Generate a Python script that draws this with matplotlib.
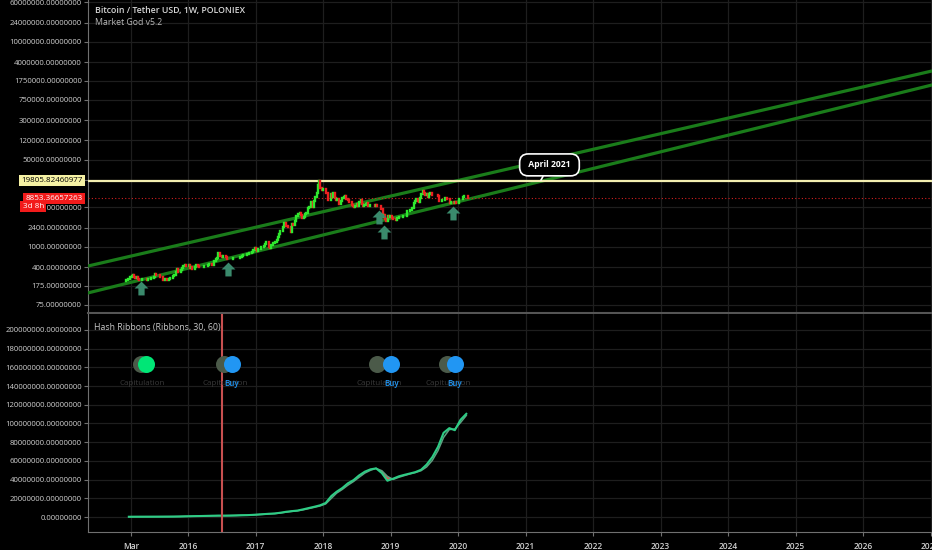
import numpy as np
import pandas as pd
import matplotlib
matplotlib.use('Agg')
import matplotlib.pyplot as plt
import matplotlib.transforms as mtransforms

# weekly closes BTC/USDT (Poloniex), weeks starting 2015-02-02
closes = [
  # 2015
  227, 234, 236, 254, 274, 286, 260, 247, 254, 236, 222, 226, 238, 242, 237, 240, 230,
  233, 233, 244, 250, 260, 293, 280, 289, 281, 265, 260, 230, 229, 240, 232, 232, 236, 247,
  246, 270, 284, 325, 380, 330, 323, 363, 389, 434, 438, 422, 430,
  # 2016
  448, 382, 402, 378, 374, 404, 438, 432, 411, 412, 416, 416, 420, 420, 427, 447, 457,
  458, 455, 443, 530, 576, 606, 763, 663, 672, 645, 666, 655, 624, 585, 570, 580, 575, 610,
  607, 607, 603, 615, 616, 640, 655, 700, 706, 705, 730, 735, 770, 776, 790, 890, 970,
  # 2017
  905, 820, 920, 915, 1015, 995, 1050, 1150, 1270, 1230, 1020, 940, 1100, 1200, 1180, 1240, 1340,
  1560, 1760, 2040, 2060, 2500, 2950, 2560, 2590, 2500, 2510, 1930, 2760, 2730, 3220,
  4060, 4080, 4370, 4580, 4300, 3650, 3800, 4360, 4600, 5690, 5930, 6140, 7380,
  5950, 8000, 9300, 11100, 16500, 19300, 14000, 12900,
  # 2018
  13500, 13800, 11500, 11200, 8200, 8100, 11000, 9600, 11400, 9200, 8200, 8500, 7000,
  6900, 8000, 8900, 9300, 9700, 8700, 8200, 7400, 7700, 6500, 6400, 6100, 6350,
  6750, 6300, 7700, 8200, 7000, 6300, 6500, 7050, 7300, 6250, 6500, 6700, 6620,
  6600, 6300, 6550, 6400, 6400, 6350, 5600, 3800, 4150, 3500, 3250, 4000, 3850, 4030,
  # 2019
  3600, 3550, 3550, 3430, 3670, 3650, 3800, 3860, 3880, 4000, 4000, 4100,
  5050, 5070, 5310, 5290, 5700, 7200, 8000, 8700, 8050, 7620, 8970, 10700, 12300,
  11500, 10200, 10600, 9500, 10800, 11400, 10300, 10150, 10400, 10300, 10300, 9950, 8050, 7900,
  8300, 8250, 9200, 9200, 8800, 8500, 7100, 7420, 7500, 7090, 7500, 7260, 7350,
  # 2020
  8650, 8700, 8600, 9350, 9900, 9900, 9700, 8853,
]
first_open = 220

# hash rate ribbons, monthly, in TH/s (millions)
hash_fast = [
  0.30, 0.33, 0.35, 0.36, 0.37, 0.38, 0.41, 0.44, 0.48, 0.58, 0.74,
  0.85, 1.0, 1.1, 1.25, 1.4, 1.5, 1.45, 1.55, 1.7, 1.9, 2.0, 2.3,
  2.7, 3.1, 3.5, 3.8, 4.6, 5.6, 6.3, 6.9, 8.2, 9.6, 11.0, 12.5,
  15.0, 22.5, 27.0, 31.0, 36.0, 39.5, 44.5, 48.5, 51.0, 52.0, 47.0, 38.8,
  41.0, 43.5, 45.0, 46.5, 48.0, 50.5, 56.0, 64.0, 75.0, 90.0, 95.0, 92.8,
  104.0, 110.3,
]
hash_slow = [
  0.29, 0.34, 0.345, 0.355, 0.365, 0.375, 0.40, 0.43, 0.46, 0.54, 0.68,
  0.80, 0.95, 1.05, 1.2, 1.33, 1.45, 1.48, 1.52, 1.65, 1.82, 1.95, 2.2,
  2.55, 2.95, 3.35, 3.7, 4.3, 5.2, 6.0, 6.6, 7.7, 9.0, 10.4, 11.8,
  14.0, 20.0, 25.5, 29.5, 34.0, 38.0, 42.5, 47.0, 50.0, 52.0, 49.5, 43.5,
  40.2, 42.5, 44.2, 46.0, 47.5, 49.5, 53.5, 60.5, 71.0, 85.0, 93.5, 94.0,
  101.0, 108.5,
]

# channel lines (date, price)
upper_line = (['2014-07-09', '2027-01-09'], [425, 2720000])
lower_line = (['2014-07-09', '2027-01-09'], [127, 1450000])
ath_price = 19805.82460977
last_price = 8853.36657263

arrow_dates = ['2015-04-20', '2016-08-05', '2018-10-30', '2018-11-25', '2019-12-05']
arrow_prices = [158, 372, 3850, 1960, 4600]

# hash ribbon signals
cap_dates = ['2015-04-20', '2016-07-12', '2018-10-22', '2019-11-01']
sig_dates = ['2015-05-20', '2016-08-25', '2019-01-05', '2019-12-15']
sig_kind = ['green', 'buy', 'buy', 'buy']
halving_date = '2016-07-03'

y_ticks_top = [75, 175, 400, 1000, 2400, 6000, 20000, 50000, 120000, 300000,
               750000, 1750000, 4000000, 10000000, 24000000, 60000000]
y_ticks_bot = [0, 20e6, 40e6, 60e6, 80e6, 100e6, 120e6, 140e6, 160e6, 180e6, 200e6]
x_ticks = ['2015-03-01'] + ['%d-01-01' % y for y in range(2016, 2028)]
x_labels = ['Mar'] + [str(y) for y in range(2016, 2028)]

BG = '#000000'
GRID = '#1e1e1e'
TXT = '#d0d0d0'
plt.rcParams['font.family'] = ['Open Sans', 'DejaVu Sans']

fig = plt.figure(figsize=(9.32, 5.5), dpi=100, facecolor=BG)
W, H = 932.0, 550.0
ax1 = fig.add_axes([88 / W, 1 - 313 / H, 1 - 88 / W, 313 / H])
ax2 = fig.add_axes([88 / W, 1 - 532 / H, 1 - 88 / W, (532 - 314) / H], sharex=ax1)

xlim = (pd.Timestamp('2014-07-09'), pd.Timestamp('2027-01-09'))
for ax in (ax1, ax2):
  ax.set_facecolor(BG)
  for s in ('top', 'right'):
    ax.spines[s].set_visible(False)
  ax.spines['left'].set_color('#707070')
  ax.spines['bottom'].set_color('#707070')
  ax.grid(True, color=GRID, lw=0.9)
  ax.set_axisbelow(True)
  ax.tick_params(axis='y', colors='#707070', labelcolor=TXT, labelsize=5.6, length=3, pad=1.5)
  ax.tick_params(axis='x', colors='#707070', labelcolor=TXT, labelsize=6.0, length=3, pad=4)
ax1.set_xlim(*xlim)

# ---- top pane: price ----
ax1.set_yscale('log')
ax1.set_ylim(51.5, 66e6)
ax1.set_yticks(y_ticks_top)
ax1.set_yticklabels(['%.8f' % v for v in y_ticks_top])
ax1.minorticks_off()
ax1.tick_params(axis='x', labelbottom=False, length=0)
ax1.spines['bottom'].set_color('#555555')
ax1.spines['bottom'].set_linewidth(1.5)

dates = pd.date_range('2015-02-02', periods=len(closes), freq='W-MON')
c = np.array(closes, dtype=float)
o = np.concatenate([[first_open], c[:-1]])
cols = np.where(c >= o, '#2ee82e', '#ec2020')
ax1.vlines(dates, np.minimum(o, c), np.maximum(o, c), colors=cols, lw=1.7,
           capstyle='projecting', zorder=4)

for ln in (upper_line, lower_line):
  ax1.plot(pd.to_datetime(ln[0]), ln[1], color='#1a7c1a', lw=2.3, zorder=3)
ax1.axhline(ath_price, color='#f3eeb0', lw=1.6, zorder=3)
ax1.axhline(last_price, color='#d02020', lw=0.8, ls=(0, (1, 2)), zorder=3)

arrow = [(0, 1), (1, 0), (0.45, 0), (0.45, -1), (-0.45, -1), (-0.45, 0), (-1, 0)]
ax1.plot(pd.to_datetime(arrow_dates), arrow_prices, ls='none', marker=arrow,
         ms=10, color='#3a8a6c', mec='none', zorder=5)

trans = mtransforms.blended_transform_factory(ax1.transAxes, ax1.transData)
ax1.text(-0.006, ath_price, '%.8f' % ath_price, transform=trans, ha='right', va='center',
         fontsize=5.8, color='#000000', clip_on=False, zorder=10,
         bbox=dict(boxstyle='square,pad=0.3', fc='#f6f2a4', ec='none'))
ax1.text(-0.006, last_price, '%.8f' % last_price, transform=trans, ha='right', va='center',
         fontsize=5.8, color='white', clip_on=False, zorder=10,
         bbox=dict(boxstyle='square,pad=0.3', fc='#f21b1b', ec='none'))
ax1.text(-0.0775, 6150, '3d 8h', transform=trans, ha='left', va='center',
         fontsize=5.8, color='white', clip_on=False, zorder=10,
         bbox=dict(boxstyle='square,pad=0.3', fc='#f21b1b', ec='none'))

ax1.annotate(' April 2021 ', xy=(pd.Timestamp('2021-03-25'), ath_price * 1.02),
             xytext=(pd.Timestamp('2021-05-10'), 40000), ha='center', va='center',
             fontsize=6.2, fontweight='bold', color='white', zorder=11,
             bbox=dict(boxstyle='round,pad=0.75,rounding_size=1.0', fc='black', ec='white', lw=1.2),
             arrowprops=dict(arrowstyle='-', color='white', lw=1.2, shrinkA=0, shrinkB=0))

fig.text(95 / W, 1 - 11 / H, 'Bitcoin / Tether USD, 1W, POLONIEX', fontsize=6.3,
         fontweight='semibold', color='#d8d8d8', va='center')
fig.text(95 / W, 1 - 22.5 / H, 'Market God v5.2', fontsize=6.3, color='#b8b8b8', va='center')

# ---- bottom pane: hash ribbons ----
ax2.set_ylim(-16e6, 217e6)
ax2.set_yticks(y_ticks_bot)
ax2.set_yticklabels(['%.8f' % v for v in y_ticks_bot])
ax2.set_xticks(pd.to_datetime(x_ticks))
ax2.set_xticklabels(x_labels, fontweight='semibold')
ax2.set_xlim(*xlim)

hd = pd.date_range('2015-02-01', periods=len(hash_fast), freq='MS') + pd.Timedelta(days=14)
hf = np.array(hash_fast) * 1e6
hs = np.array(hash_slow) * 1e6
ax2.fill_between(hd, hf, hs, where=hf < hs, interpolate=True, color='#e05555', lw=0, zorder=3)
ax2.plot(hd, hs, color='#5f9f80', lw=1.1, zorder=3)
ax2.plot(hd, hf, color='#2ecc85', lw=1.5, zorder=4)
ax2.axvline(pd.Timestamp(halving_date), color='#c85050', lw=1.5, zorder=5)

sig_y = 164e6
lab_y = 142.5e6
ax2.scatter(pd.to_datetime(cap_dates), [sig_y] * len(cap_dates), s=150, color='#4b5a49',
            lw=0, zorder=6)
for d, kind, cd in zip(pd.to_datetime(sig_dates), sig_kind, pd.to_datetime(cap_dates)):
  col = '#00e676' if kind == 'green' else '#2196f3'
  ax2.scatter([d], [sig_y], s=150, color=col, lw=0, zorder=7)
  ax2.text(cd + pd.Timedelta(days=10), lab_y, 'Capitulation', fontsize=5.8, color='#3a3a3a',
           ha='center', va='center', zorder=7)
  if kind == 'buy':
    ax2.text(d, lab_y, 'Buy', fontsize=5.8, color='#2196f3', ha='center', va='center',
             fontweight='semibold', zorder=8)

ax2.text(95 / W - 88 / W, 0.94, 'Hash Ribbons (Ribbons, 30, 60)', transform=ax2.transAxes,
         fontsize=6.3, color='#c8c8c8', va='center')

fig.savefig('out.png', dpi=100, facecolor=BG)
